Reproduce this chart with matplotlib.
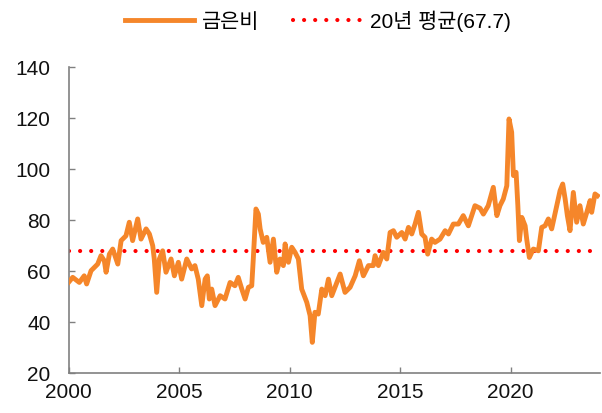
import matplotlib
matplotlib.use("Agg")
from matplotlib import pyplot as plt

# gold / silver ratio
years = [
	2000.00, 2000.19, 2000.49, 2000.71, 2000.82, 2001.02, 2001.32, 2001.47, 2001.62, 2001.70,
	2001.85, 2002.00, 2002.23, 2002.38, 2002.60, 2002.75, 2002.90, 2003.13, 2003.28, 2003.51,
	2003.66, 2003.81, 2003.88, 2003.99, 2004.11, 2004.26, 2004.41, 2004.64, 2004.79, 2004.97,
	2005.12, 2005.35, 2005.57, 2005.72, 2005.87, 2006.03, 2006.18, 2006.28, 2006.37, 2006.48,
	2006.63, 2006.86, 2007.08, 2007.31, 2007.53, 2007.68, 2007.84, 2007.99, 2008.14, 2008.29,
	2008.36, 2008.48, 2008.59, 2008.67, 2008.81, 2008.97, 2009.12, 2009.27, 2009.42, 2009.57,
	2009.72, 2009.80, 2009.95, 2010.10, 2010.25, 2010.40, 2010.55, 2010.78, 2010.93, 2011.03,
	2011.15, 2011.30, 2011.46, 2011.61, 2011.76, 2011.91, 2012.14, 2012.29, 2012.51, 2012.74,
	2012.97, 2013.16, 2013.34, 2013.57, 2013.79, 2013.87, 2014.02, 2014.24, 2014.40, 2014.55,
	2014.70, 2014.85, 2015.08, 2015.23, 2015.38, 2015.53, 2015.68, 2015.83, 2015.98, 2016.13,
	2016.25, 2016.43, 2016.58, 2016.81, 2017.04, 2017.19, 2017.41, 2017.64, 2017.86, 2018.09,
	2018.39, 2018.62, 2018.77, 2018.99, 2019.22, 2019.38, 2019.52, 2019.67, 2019.83, 2019.93,
	2020.05, 2020.13, 2020.25, 2020.33, 2020.40, 2020.51, 2020.66, 2020.73, 2020.85, 2021.03,
	2021.26, 2021.41, 2021.56, 2021.71, 2021.86, 2022.09, 2022.24, 2022.36, 2022.47, 2022.57,
	2022.69, 2022.84, 2022.99, 2023.14, 2023.29, 2023.45, 2023.60, 2023.67, 2023.82, 2023.93,
]
ratio = [
	55.4, 57.4, 55.4, 58.0, 54.8, 60.0, 62.6, 65.9, 63.9, 59.4,
	66.5, 68.5, 62.6, 71.8, 73.7, 79.0, 71.8, 80.3, 72.4, 76.4,
	74.4, 69.8, 64.6, 51.5, 64.6, 67.8, 59.4, 64.6, 58.0, 63.3,
	56.7, 64.6, 60.7, 62.0, 56.7, 46.3, 56.7, 58.0, 48.9, 52.8,
	46.3, 50.2, 48.9, 55.4, 54.1, 57.4, 52.8, 48.9, 53.5, 54.1,
	64.6, 84.2, 82.2, 76.4, 71.1, 73.1, 63.3, 72.4, 59.4, 64.6,
	62.0, 70.5, 63.3, 69.2, 67.2, 64.6, 52.8, 47.6, 42.4, 31.9,
	43.7, 43.0, 52.8, 50.2, 56.7, 50.2, 55.4, 58.7, 51.5, 53.5,
	58.0, 63.9, 58.0, 62.0, 62.0, 65.9, 62.0, 67.2, 64.6, 75.0,
	75.7, 73.1, 75.0, 72.4, 77.0, 74.4, 78.3, 82.9, 74.4, 73.1,
	66.5, 72.4, 71.1, 72.4, 75.7, 74.4, 78.3, 78.3, 81.6, 77.6,
	85.5, 84.5, 82.2, 85.5, 92.7, 81.6, 85.5, 88.1, 93.3, 119.5,
	114.3, 97.3, 98.6, 85.5, 71.8, 80.9, 77.6, 72.4, 65.2, 68.5,
	67.8, 77.0, 77.6, 80.3, 76.4, 85.5, 91.4, 94.0, 88.1, 81.6,
	75.7, 90.7, 79.0, 85.5, 78.3, 82.9, 87.5, 82.9, 90.1, 89.4,
]
avg_20y = 67.7
line_label = "금은비"
avg_label = "20년 평균(67.7)"
xticks = [2000, 2005, 2010, 2015, 2020]
yticks = [20, 40, 60, 80, 100, 120, 140]

orange = "#F5862A"
grey = "#808080"

plt.rcParams['font.family'] = ['Liberation Sans', 'Noto Sans CJK KR', 'DejaVu Sans']

fig = plt.figure(figsize=(6.02, 4.14), dpi=100)
ax = fig.add_axes([0.1138, 0.0973, 0.8830, 0.7392])

ax.plot(years, ratio, color=orange, lw=3.5, solid_joinstyle="round", label=line_label, zorder=3)
ax.axhline(avg_20y, color="#FF0000", lw=3.0, linestyle=(0, (0.01, 2.65)),
	dash_capstyle="round", label=avg_label, zorder=2)

ax.set_xlim(2000, 2024.05)
ax.set_ylim(20, 140)
ax.set_xticks(xticks)
ax.set_yticks(yticks)
ax.set_xticklabels([str(t) for t in xticks])

for side in ["top", "right"]:
	ax.spines[side].set_visible(False)
for side in ["left", "bottom"]:
	ax.spines[side].set_color(grey)
	ax.spines[side].set_linewidth(1.2)

ax.tick_params(axis="both", direction="in", length=4, width=1.0, color=grey,
	labelsize=15, labelcolor="#111111")
ax.tick_params(axis="y", pad=13)
ax.tick_params(axis="x", pad=7)

fig.legend(loc="center", bbox_to_anchor=(0.528, 0.949), ncol=2, frameon=False,
	prop={"size": 15}, handlelength=3.3, handletextpad=0.4, columnspacing=1.6)

fig.savefig("out.png", dpi=100)
